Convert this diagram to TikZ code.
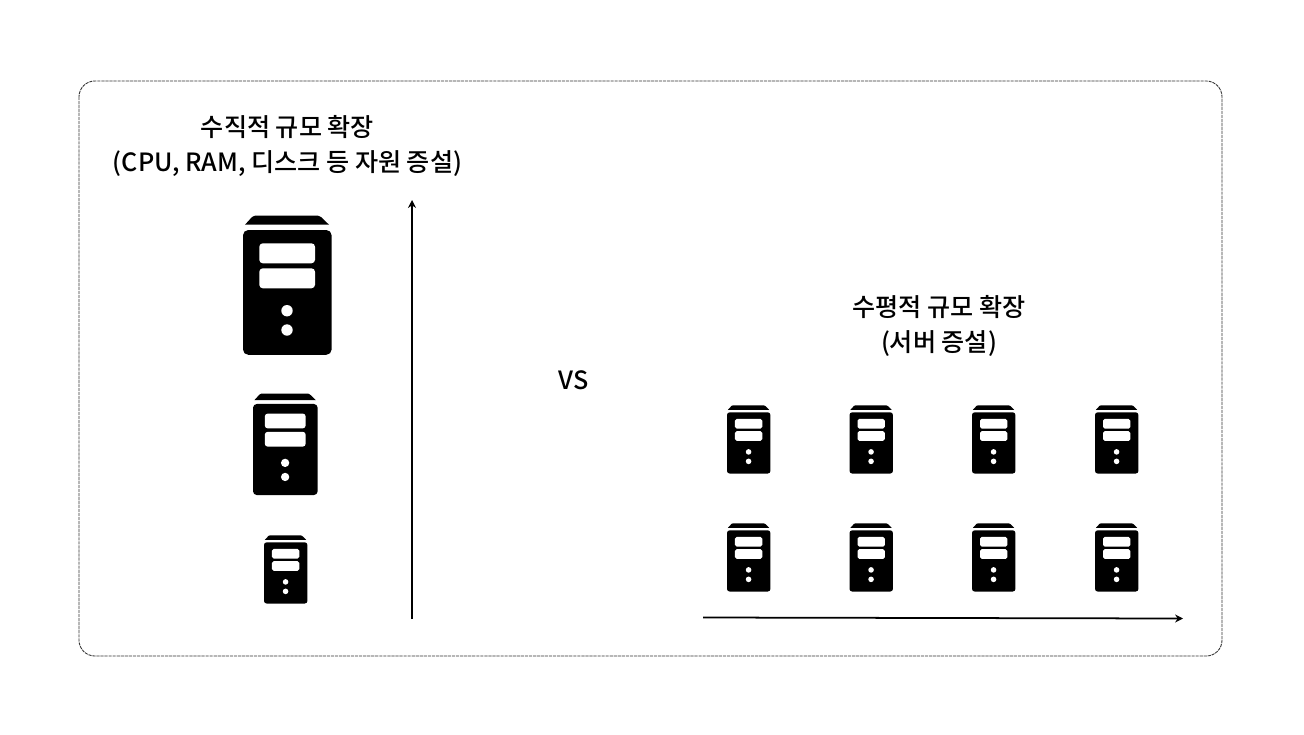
\documentclass[tikz,border=0pt]{standalone}
\usepackage{fontspec}
\setmainfont{Noto Sans CJK KR Medium}
\usetikzlibrary{arrows.meta}
\tikzset{
 pics/server/.style={code={
  \begin{scope}[scale=#1]
  \fill (2,9.7)--(9,2) .. controls (10,.7) .. (12,.7)--(75,.7) .. controls (77,.7) .. (78,2)--(86,9.7)--cycle;
  \fill[rounded corners=#1*3pt] (0,15)rectangle(88.6,139.8);
  \fill[white,rounded corners=#1*2pt] (16.3,28.3)rectangle(72,48.3);
  \fill[white,rounded corners=#1*2pt] (16.3,53.3)rectangle(72,73.3);
  \fill[white] (44,95.7) circle (5.7) (44,115) circle (5.7);
  \end{scope}}}}
\begin{document}
\begin{tikzpicture}[x=.02cm,y=-.02cm,>={Stealth[length=4.5pt,width=4.5pt]},
 ttl/.style={align=center,font=\fontsize{14.3pt}{19.9pt}\selectfont},
 frm/.style={draw=black!80,dash pattern=on 1.8pt off .5pt,line width=.5pt,rounded corners=9pt},
 axis/.style={->,line width=1pt}]
\useasboundingbox (0,0) rectangle (1304,734);
\draw[frm] (79,81) rectangle (1222,656);
\node[ttl] (vtitle) at (287.5,145.5) {수직적 규모 확장\\(CPU, RAM, 디스크 등 자원 증설)};
\node[ttl] (htitle) at (939,325.5) {수평적 규모 확장\\(서버 증설)};
\node[ttl] (vs) at (573.5,380) {VS};
% vertical side
\pic (vlarge) at (243,215) {server=1};
\pic (vmid) at (253,393) {server=.73};
\pic (vsmall) at (264,535) {server=.49};
\coordinate (vfrom) at (412,619); \coordinate (vto) at (412,200);
\draw[axis] (vfrom)--(vto);
% horizontal side
\foreach \row/\ypos in {a/405,b/523}
 \foreach \col/\xpos in {1/727,2/849.5,3/972,4/1095}
  \pic (h\row\col) at (\xpos,\ypos) {server=.49};
\coordinate (hfrom) at (703,617.5); \coordinate (hto) at (1183,618.5);
\draw[axis] (hfrom)--(hto);
\end{tikzpicture}
\end{document}
